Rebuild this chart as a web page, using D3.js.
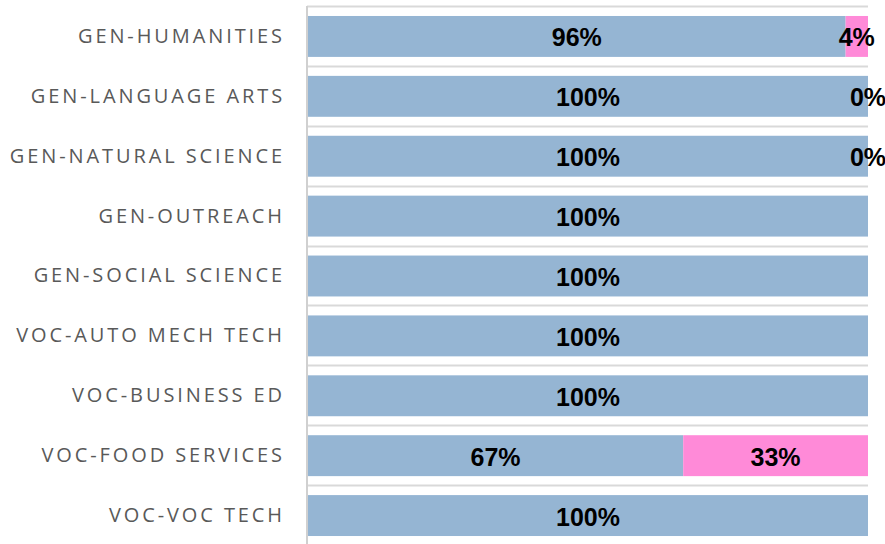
<!DOCTYPE html>
<html>
<head>
<meta charset="utf-8">
<script src="https://cdn.jsdelivr.net/npm/d3@7"></script>
<style>
  html, body { margin: 0; padding: 0; background: #fff; }
  svg { display: block; }
</style>
</head>
<body>
<svg id="chart" width="885" height="544"></svg>
<script>
// Share of each course group, split into two parts (percent)
const categories = [
  "GEN-HUMANITIES", "GEN-LANGUAGE ARTS", "GEN-NATURAL SCIENCE", "GEN-OUTREACH",
  "GEN-SOCIAL SCIENCE", "VOC-AUTO MECH TECH", "VOC-BUSINESS ED",
  "VOC-FOOD SERVICES", "VOC-VOC TECH"
];
const seriesA = [96, 100, 100, 100, 100, 100, 100, 67, 100];
const seriesB = [4, 0, 0, null, null, null, null, 33, null];
const seriesColors = ["#95b5d3", "#ff8ad8"];

const svg = d3.select("#chart");
const margin = { left: 307, right: 17, top: 6, bottom: -2 };
const W = 885, H = 544;

const x = d3.scaleLinear().domain([0, 100]).range([margin.left + 1, W - margin.right]);
const y = d3.scaleBand().domain(categories).range([margin.top, H - margin.bottom]).paddingInner(0.3167).paddingOuter(0.1667);
const step = y.step();

// horizontal separators between rows
svg.append("g").selectAll("line")
  .data(categories)
  .join("line")
  .attr("x1", margin.left).attr("x2", W - margin.right)
  .attr("y1", d => Math.round(y(d) - y.paddingOuter() * step) + 0.5)
  .attr("y2", d => Math.round(y(d) - y.paddingOuter() * step) + 0.5)
  .attr("stroke", "#d9d9d9").attr("stroke-width", 2);

// stacked segments
const rows = categories.map((c, i) => ({ cat: c, a: seriesA[i], b: seriesB[i] }));
const segs = [];
rows.forEach(r => {
  segs.push({ cat: r.cat, x0: 0, x1: r.a, v: r.a, k: 0 });
  if (r.b !== null) segs.push({ cat: r.cat, x0: r.a, x1: r.a + r.b, v: r.b, k: 1 });
});

svg.append("g").selectAll("rect")
  .data(segs)
  .join("rect")
  .attr("x", d => x(d.x0))
  .attr("width", d => x(d.x1) - x(d.x0))
  .attr("y", d => y(d.cat))
  .attr("height", y.bandwidth())
  .attr("fill", d => seriesColors[d.k]);

// value labels centred in each segment
svg.append("g").selectAll("text")
  .data(segs)
  .join("text")
  .attr("x", d => (x(d.x0) + x(d.x1)) / 2)
  .attr("y", d => y(d.cat) + y.bandwidth() / 2 + 10)
  .attr("text-anchor", "middle")
  .attr("font-family", "'Liberation Sans', Arial, sans-serif")
  .attr("font-weight", "bold")
  .attr("font-size", 25)
  .attr("fill", "#000")
  .text(d => d.v + "%");

// category axis
const axis = svg.append("g").attr("transform", `translate(${margin.left},0)`)
  .call(d3.axisLeft(y).tickSize(0).tickPadding(22));
axis.select(".domain").attr("stroke", "#d0d0d0").attr("stroke-width", 2)
  .attr("d", `M0,${margin.top}V${H + 10}`);
axis.selectAll("text")
  .attr("font-family", "'Open Sans', sans-serif")
  .attr("font-size", 20)
  .attr("letter-spacing", "2.9px")
  .attr("fill", "#595959");
</script>
</body>
</html>
